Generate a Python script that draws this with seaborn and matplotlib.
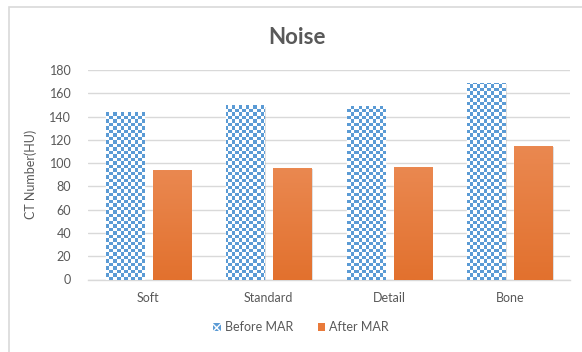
import numpy as np
import pandas as pd
import matplotlib
matplotlib.use("Agg")
import matplotlib.pyplot as plt
import matplotlib.patheffects as pe
from matplotlib.patches import Patch, Rectangle
from matplotlib.colors import to_rgb
import seaborn as sns

# Noise measured per reconstruction kernel
kernels = ["Soft", "Standard", "Detail", "Bone"]
before_mar = [144, 150, 149, 169]
after_mar = [94, 96, 97, 115]
series_names = ["Before MAR", "After MAR"]
y_ticks = [0, 20, 40, 60, 80, 100, 120, 140, 160, 180]

df = pd.DataFrame({
    "Kernel": kernels * 2,
    "Noise": before_mar + after_mar,
    "Series": [series_names[0]] * len(kernels) + [series_names[1]] * len(kernels),
})

BLUE = "#5B9BD5"
ORANGE_TOP = "#EA8850"
ORANGE_BOTTOM = "#E2712E"
GRID = "#D9D9D9"
TEXT = "#595959"

sns.set_theme(style="white")
plt.rcParams["font.family"] = ["Lato", "DejaVu Sans"]

DPI = 100
fig = plt.figure(figsize=(5.82, 3.52), dpi=DPI)
ax_px = (88, 70, 570, 279.5)  # left, top, right, bottom in pixels
ax = fig.add_axes([ax_px[0] / 582, 1 - ax_px[3] / 352,
                   (ax_px[2] - ax_px[0]) / 582, (ax_px[3] - ax_px[1]) / 352])

sns.barplot(data=df, x="Kernel", y="Noise", hue="Series", order=kernels,
            hue_order=series_names, palette=[BLUE, ORANGE_BOTTOM],
            width=0.78, gap=0.19, ax=ax, legend=False, zorder=3)

ax.set_ylim(0, 180)
ax.set_yticks(y_ticks)
ax.grid(axis="y", color=GRID, linewidth=1, zorder=0)
ax.set_axisbelow(True)
for side in ["left", "right", "top"]:
    ax.spines[side].set_visible(False)
ax.spines["bottom"].set_color(GRID)
ax.spines["bottom"].set_linewidth(1)
ax.tick_params(axis="both", length=0, labelsize=9, colors=TEXT)
ax.tick_params(axis="y", pad=12)
ax.tick_params(axis="x", pad=9)
ax.set_xlabel("")
ax.set_ylabel("CT Number(HU)", fontsize=9, color=TEXT, labelpad=9)

# Checkerboard texture (pixel resolution) for the first series
w_px = int(round(ax_px[2] - ax_px[0]))
h_px = int(round(ax_px[3] - ax_px[1]))
cell = 3.5
rows = np.floor(np.arange(h_px) / cell).astype(int)
cols = np.floor(np.arange(w_px) / cell).astype(int)
checker = (np.add.outer(rows, cols) % 2).astype(bool)
blue = np.array(to_rgb(BLUE))
checker_rgb = np.where(checker[..., None], blue, np.ones(3))

# Vertical gradient for the second series
top = np.array(to_rgb(ORANGE_TOP))
bot = np.array(to_rgb(ORANGE_BOTTOM))
t = np.linspace(0, 1, 64)[:, None]
grad = (top * (1 - t) + bot * t)[:, None, :]

shadow = [pe.SimplePatchShadow(offset=(1.2, -1.2), shadow_rgbFace="#7f7f7f", alpha=0.3), pe.Normal()]

n = len(kernels)
for i, bar in enumerate(ax.patches[:2 * n]):
    bar.set_path_effects(shadow)
    if i < n:
        bar.set_facecolor("white")
        img = ax.imshow(checker_rgb, extent=[0, 1, 0, 1], transform=ax.transAxes,
                        interpolation="nearest", aspect="auto", zorder=3.5)
        img.set_clip_path(bar)
    else:
        x0, w, h = bar.get_x(), bar.get_width(), bar.get_height()
        img = ax.imshow(grad, extent=[x0, x0 + w, 0, h], interpolation="bilinear",
                        aspect="auto", zorder=3.5)
        img.set_clip_path(bar)
ax.set_xlim(-0.5, n - 0.5)
ax.set_ylim(0, 180)

# Chart border
fig.patches.append(Rectangle((8.5 / 582, -0.1), 1.2, 1 - 6.5 / 352 + 0.1,
                             transform=fig.transFigure, fill=False,
                             edgecolor=GRID, linewidth=1.2))

fig.text(297 / 582, 1 - 37 / 352, "Noise", ha="center", va="center",
         fontsize=16, fontweight="bold", color=TEXT)

handles = [
    Patch(facecolor=BLUE, edgecolor="white", hatch="xxx", linewidth=0),
    Patch(facecolor="#E97A3A", edgecolor="none"),
]
fig.legend(handles, series_names, loc="center", bbox_to_anchor=(301 / 582, 1 - 327 / 352),
           ncol=2, frameon=False, fontsize=9, labelcolor=TEXT,
           handlelength=0.6, handleheight=0.6, handletextpad=0.3, columnspacing=2.0)

fig.savefig("out.png", dpi=DPI)
